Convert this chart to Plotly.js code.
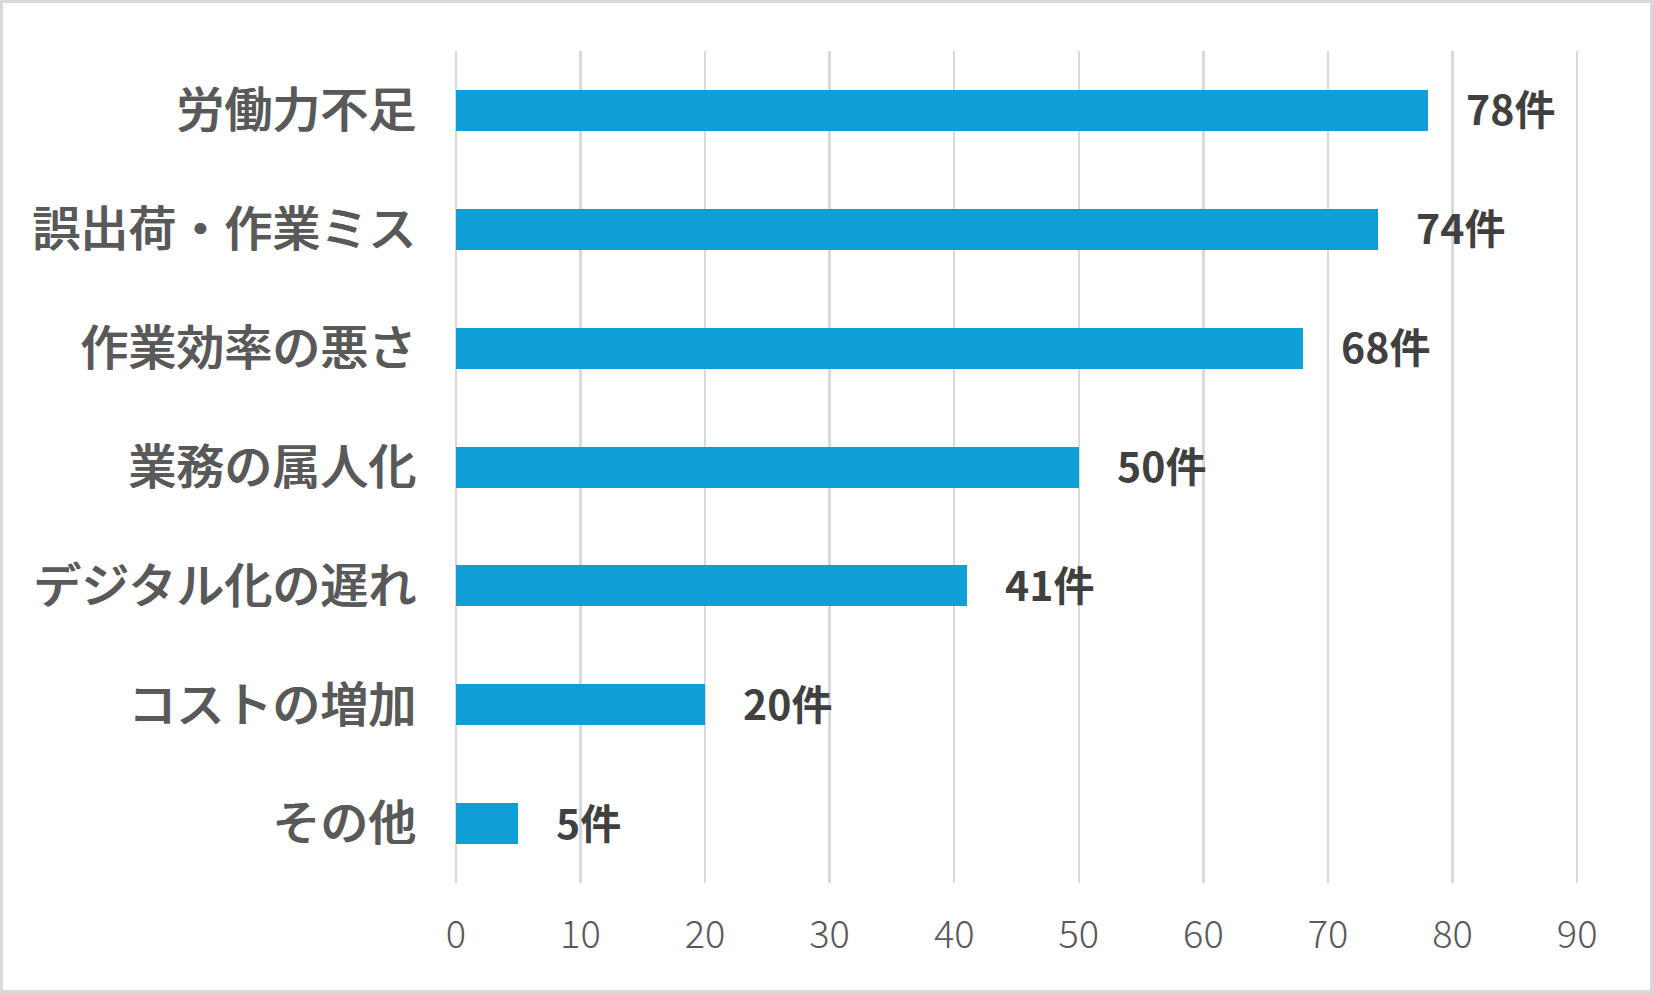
<!DOCTYPE html>
<html>
<head>
<meta charset="utf-8">
<script src="https://cdn.plot.ly/plotly-3.0.1.min.js"></script>
<style>
html,body{margin:0;padding:0;background:#fff;overflow:hidden;}
#chart{width:1653px;height:993px;}
</style>
</head>
<body>
<div id="chart"></div>
<script>
const categories = ["労働力不足","誤出荷・作業ミス","作業効率の悪さ","業務の属人化","デジタル化の遅れ","コストの増加","その他"];
const counts = [78, 74, 68, 50, 41, 20, 5];
const labelSuffix = "件";
const xTicks = [0,10,20,30,40,50,60,70,80,90];

const W = 1653, H = 993;
const pad = 0.15;               // small range padding so edge gridlines are not clipped
const pxPerUnit = 1121 / 90;
const L = Math.round(456 - pad * pxPerUnit), R = Math.round(76 - pad * pxPerUnit), T = 51, B = 110;
const pw = W - L - R, ph = H - T - B;

const trace = {
  type: 'bar',
  orientation: 'h',
  x: counts,
  y: categories,
  marker: {color: '#0F9ED5'},
  width: 0.345,
  hoverinfo: 'none'
};

const annotations = counts.map((v, i) => ({
  x: v, y: categories[i], xref: 'x', yref: 'y',
  text: v + labelSuffix, showarrow: false,
  xanchor: 'left', yanchor: 'middle', xshift: 36, yshift: 3,
  font: {family: '"Noto Sans CJK JP", "Noto Sans", sans-serif', size: 41, color: '#404040', weight: 700}
}));

const fx = px => (px - L) / pw;
const fy = py => (H - B - py) / ph;

const layout = {
  width: W, height: H,
  margin: {l: L, r: R, t: T, b: B, pad: 0},
  paper_bgcolor: '#ffffff',
  plot_bgcolor: '#ffffff',
  showlegend: false,
  bargap: 0,
  xaxis: {
    range: [-pad, 90 + pad],
    tickvals: xTicks,
    ticktext: xTicks.map(String),
    showgrid: true,
    gridcolor: '#D9D9D9',
    gridwidth: 2.5,
    zeroline: false,
    showline: false,
    ticks: '',
    ticklabelstandoff: 26,
    tickfont: {family: '"Noto Sans CJK JP", "Noto Sans", sans-serif', size: 38, color: '#595959', weight: 300},
    fixedrange: true
  },
  yaxis: {
    autorange: 'reversed',
    type: 'category',
    categoryorder: 'array',
    categoryarray: categories,
    showgrid: false,
    zeroline: false,
    showline: false,
    ticks: '',
    ticklabelstandoff: 37,
    tickfont: {family: '"Noto Sans CJK JP", sans-serif', size: 48, color: '#595959', weight: 500,
               shadow: '0.8px 0 0 #595959'},
    fixedrange: true
  },
  annotations: annotations,
  shapes: [{
    type: 'rect', xref: 'paper', yref: 'paper',
    x0: fx(1.5), x1: fx(W - 1.5), y0: fy(H - 1.5), y1: fy(1.5),
    line: {color: '#D9D9D9', width: 3},
    fillcolor: 'rgba(0,0,0,0)', layer: 'below'
  }]
};

Plotly.newPlot('chart', [trace], layout, {displayModeBar: false, staticPlot: true});
</script>
</body>
</html>
